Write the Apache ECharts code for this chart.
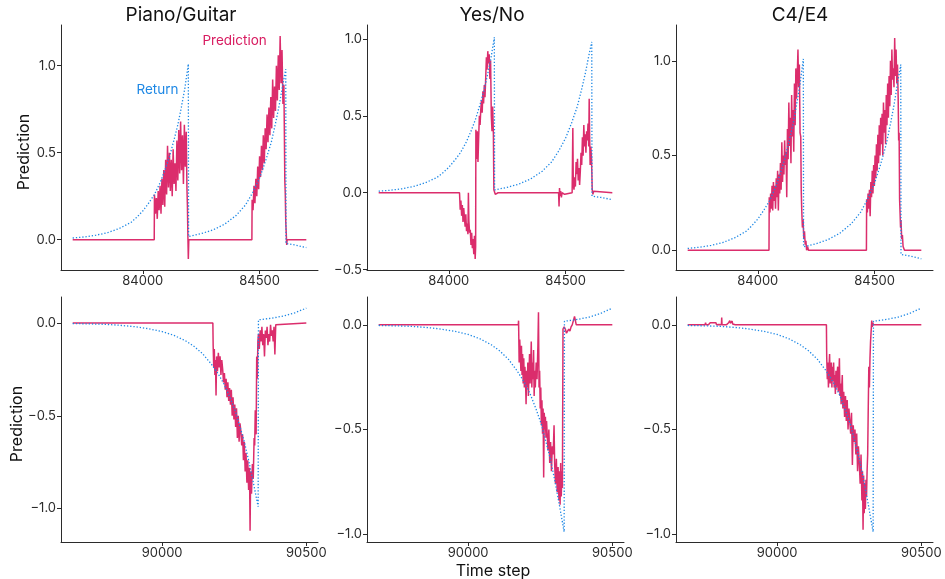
<!DOCTYPE html>
<html>
<head>
<meta charset="utf-8">
<script src="https://cdn.jsdelivr.net/npm/echarts@6/dist/echarts.min.js"></script>
<style>
html,body{margin:0;padding:0;background:#fff;}
#chart{width:945px;height:579px;}
</style>
</head>
<body>
<div id="chart"></div>
<script>
// ---------------- data ----------------
const panelTitles = ['Piano/Guitar', 'Yes/No', 'C4/E4'];
const topXTicks = [84000, 84500];
const bottomXTicks = [90000, 90500];
const topYTicks = [[0, 0.5, 1], [-0.5, 0, 0.5, 1], [0, 0.5, 1]];
const bottomYTicks = [[-1, -0.5, 0], [-1, -0.5, 0], [-1, -0.5, 0]];
const topXRange = [83650, 84750];
const bottomXRange = [89649.5, 90540.5];
const topYRanges = [[-0.174, 1.234], [-0.502, 1.09], [-0.104, 1.189]];
const bottomYRanges = [[-1.18, 0.14], [-1.038, 0.133], [-1.038, 0.133]];

// Return (dotted), shared by the three panels of each row
const returnTopSteps = [83700,83750,83800,83850,83900,83950,83975,84000,84025,84050,84075,84095,84115,84135,84150,84165,84180,84195,84196,84250,84300,84350,84400,84440,84470,84500,84525,84550,84570,84585,84600,84612,84613,84650,84700];
const returnTopValues = [0.01,0.016,0.026,0.041,0.065,0.10,0.13,0.165,0.21,0.26,0.33,0.40,0.48,0.58,0.66,0.76,0.87,1.01,0.018,0.035,0.056,0.089,0.14,0.20,0.27,0.355,0.45,0.56,0.68,0.78,0.895,0.98,-0.022,-0.03,-0.045];
const returnBottomSteps = [89690,89750,89800,89850,89900,89950,90000,90040,90080,90110,90140,90170,90195,90215,90235,90255,90270,90285,90300,90315,90333,90334,90380,90420,90460,90500];
const returnBottomValues = [-0.003,-0.005,-0.007,-0.012,-0.019,-0.030,-0.046,-0.066,-0.095,-0.125,-0.165,-0.22,-0.275,-0.33,-0.40,-0.48,-0.56,-0.64,-0.74,-0.85,-0.99,0.017,0.026,0.037,0.055,0.080];

// Prediction, [time step, value]
const pianoTopPred = [[83700,0],[84049,0],
[84050,0.26],[84054,0.15],[84058,0.24],[84062,0.12],[84066,0.28],[84070,0.17],[84074,0.31],[84078,0.15],[84082,0.35],[84086,0.20],[84090,0.40],[84094,0.19],[84098,0.46],[84102,0.26],[84106,0.54],[84110,0.30],[84114,0.50],[84118,0.28],[84122,0.46],[84126,0.25],[84130,0.52],[84134,0.32],[84138,0.44],[84142,0.28],[84146,0.57],[84150,0.34],[84154,0.63],[84158,0.38],[84162,0.68],[84166,0.40],[84170,0.60],[84174,0.32],[84178,0.66],[84182,0.42],[84186,0.62],[84189,0.30],[84191,0.20],[84193,0.03],[84195,-0.11],[84197,0],
[84467,0],
[84468,0.23],[84472,0.17],[84476,0.31],[84480,0.21],[84484,0.35],[84488,0.25],[84492,0.42],[84496,0.29],[84500,0.48],[84504,0.36],[84508,0.54],[84512,0.40],[84516,0.60],[84520,0.44],[84524,0.64],[84528,0.52],[84532,0.72],[84536,0.56],[84540,0.76],[84544,0.60],[84548,0.82],[84552,0.64],[84556,0.92],[84560,0.70],[84564,0.88],[84568,0.74],[84572,1.00],[84576,0.80],[84580,1.06],[84584,0.86],[84588,1.17],[84592,0.90],[84596,1.09],[84600,0.78],[84604,0.89],[84606,0.62],[84608,0.34],[84610,0.26],[84612,0.10],[84614,0.04],[84616,-0.03],[84618,0],[84700,0]];

const yesNoTopPred = [[83700,0],[84046,0],[84047,0.01],[84049,-0.11],[84052,-0.05],[84055,-0.15],[84058,-0.08],[84061,-0.19],[84064,-0.10],[84067,-0.16],[84070,-0.22],[84073,-0.14],[84076,-0.25],[84079,-0.20],[84082,-0.27],[84084,0.00],[84086,-0.18],[84089,-0.26],[84092,-0.24],[84095,-0.34],[84098,-0.26],[84101,-0.36],[84104,-0.30],[84107,-0.40],[84110,-0.28],[84113,-0.43],[84115,-0.35],
[84116,0.41],[84119,0.22],[84122,0.40],[84125,0.20],[84128,0.36],[84131,0.50],[84134,0.44],[84137,0.54],[84140,0.60],[84143,0.52],[84146,0.66],[84149,0.58],[84152,0.70],[84155,0.62],[84158,0.74],[84161,0.88],[84164,0.80],[84167,0.92],[84170,0.84],[84173,0.90],[84176,0.74],[84179,0.86],[84182,0.50],[84185,0.40],[84188,0.56],[84191,0.38],[84193,0.02],[84196,0.01],[84199,-0.01],[84203,0],[84207,-0.01],[84211,0],
[84470,0],[84472,-0.09],[84474,0.03],[84476,-0.02],[84479,0.01],[84482,-0.03],[84485,0],[84488,-0.01],[84492,0.01],[84496,-0.01],[84500,0],[84528,0],[84529,0.01],[84531,0.42],[84533,0.05],[84536,0.02],[84539,0.10],[84542,0.04],[84545,0.20],[84548,0.12],[84551,0.22],[84554,0.08],[84557,0.16],[84560,0.05],[84563,0.14],[84566,0.26],[84569,0.18],[84572,0.36],[84575,0.24],[84578,0.44],[84581,0.30],[84584,0.38],[84587,0.26],[84590,0.40],[84593,0.34],[84596,0.45],[84599,0.30],[84601,0.61],[84603,0.36],[84605,0.18],[84608,0.30],[84611,0.22],[84614,0.02],[84617,-0.01],[84620,0.01],[84624,0],[84700,0]];

const c4TopPred = [[83700,0],[84048,0],[84049,0.28],[84052,0.20],[84055,0.30],[84058,0.22],[84061,0.34],[84064,0.21],[84067,0.36],[84070,0.26],[84073,0.34],[84076,0.22],[84079,0.38],[84082,0.28],[84085,0.42],[84088,0.21],[84091,0.40],[84094,0.30],[84097,0.46],[84100,0.32],[84103,0.57],[84106,0.36],[84109,0.50],[84112,0.40],[84115,0.58],[84118,0.45],[84121,0.52],[84124,0.28],[84127,0.64],[84130,0.48],[84133,0.78],[84136,0.55],[84139,0.70],[84142,0.46],[84145,0.82],[84148,0.60],[84151,0.74],[84154,0.52],[84157,0.88],[84160,0.66],[84163,0.96],[84166,0.80],[84169,0.92],[84172,1.06],[84175,0.86],[84178,0.98],[84181,0.62],[84184,0.60],[84186,0.32],[84188,0.22],[84191,0.12],[84194,0.16],[84197,0.06],[84200,0.10],[84203,0.03],[84206,0.05],[84209,0],[84213,0.02],[84217,0],
[84465,0],[84466,0.27],[84469,0.20],[84472,0.30],[84475,0.22],[84478,0.32],[84481,0.18],[84484,0.36],[84487,0.28],[84490,0.42],[84493,0.30],[84496,0.45],[84499,0.34],[84502,0.50],[84505,0.38],[84508,0.56],[84511,0.42],[84514,0.61],[84517,0.46],[84520,0.66],[84523,0.50],[84526,0.70],[84529,0.56],[84532,0.72],[84535,0.50],[84538,0.78],[84541,0.62],[84544,0.74],[84547,0.56],[84550,0.82],[84553,0.66],[84556,0.88],[84559,0.70],[84562,0.92],[84565,0.76],[84568,1.00],[84571,0.82],[84574,1.06],[84577,0.90],[84580,0.96],[84583,0.86],[84586,1.12],[84589,0.92],[84592,1.06],[84595,0.88],[84598,0.98],[84601,0.80],[84603,0.58],[84605,0.62],[84607,0.27],[84609,0.20],[84611,0.12],[84613,0.16],[84616,0.06],[84619,0.08],[84622,0.02],[84625,0.03],[84628,0],[84700,0]];

const pianoBottomPred = [[89690,0],[90176,0],[90177,-0.12],[90179,-0.24],[90181,-0.14],[90183,-0.28],[90185,-0.20],[90187,-0.39],[90189,-0.18],[90192,-0.26],[90195,-0.16],[90198,-0.24],[90201,-0.18],[90204,-0.28],[90207,-0.20],[90210,-0.25],[90213,-0.32],[90216,-0.27],[90219,-0.36],[90222,-0.30],[90225,-0.40],[90228,-0.32],[90231,-0.42],[90234,-0.35],[90237,-0.44],[90240,-0.36],[90243,-0.50],[90246,-0.40],[90249,-0.52],[90252,-0.44],[90255,-0.56],[90258,-0.46],[90261,-0.62],[90264,-0.50],[90267,-0.64],[90270,-0.54],[90273,-0.58],[90276,-0.66],[90279,-0.60],[90282,-0.74],[90285,-0.64],[90288,-0.80],[90291,-0.70],[90294,-0.86],[90297,-0.74],[90300,-0.90],[90303,-0.78],[90305,-1.12],[90307,-0.80],[90310,-0.92],[90313,-0.76],[90316,-0.84],[90319,-0.62],[90321,-0.66],[90323,-0.47],[90326,-0.60],[90328,-0.18],[90330,-0.30],[90332,-0.10],[90334,-0.06],[90337,-0.14],[90340,-0.04],[90343,-0.10],[90346,-0.02],[90349,-0.12],[90352,-0.06],[90355,-0.18],[90358,-0.04],[90361,-0.08],[90364,-0.02],[90367,-0.12],[90370,-0.06],[90373,-0.10],[90376,-0.01],[90379,-0.07],[90382,-0.04],[90385,-0.10],[90388,-0.02],[90391,-0.17],[90394,-0.01],[90397,0],[90500,0]];

const yesNoBottomPred = [[89690,0],[90174,0],[90175,0.02],[90177,-0.18],[90179,-0.07],[90181,-0.14],[90183,-0.22],[90185,-0.10],[90187,-0.24],[90189,-0.14],[90191,-0.28],[90193,-0.16],[90195,-0.30],[90197,-0.20],[90199,-0.26],[90201,-0.38],[90203,-0.22],[90205,-0.30],[90207,-0.18],[90209,-0.34],[90211,-0.24],[90213,-0.14],[90215,-0.28],[90217,-0.20],[90219,-0.08],[90221,-0.30],[90223,-0.18],[90225,-0.26],[90227,-0.12],[90229,-0.34],[90231,-0.22],[90233,-0.30],[90236,-0.18],[90239,-0.26],[90242,-0.10],[90244,0.06],[90246,-0.30],[90248,-0.22],[90250,-0.40],[90252,-0.30],[90254,-0.48],[90256,-0.36],[90258,-0.52],[90260,-0.40],[90262,-0.73],[90264,-0.42],[90266,-0.50],[90268,-0.44],[90270,-0.54],[90272,-0.46],[90274,-0.52],[90277,-0.60],[90280,-0.50],[90283,-0.66],[90286,-0.56],[90289,-0.70],[90292,-0.58],[90295,-0.62],[90298,-0.48],[90300,-0.66],[90303,-0.76],[90306,-0.64],[90309,-0.80],[90312,-0.68],[90315,-0.84],[90317,-0.70],[90319,-0.86],[90321,-0.66],[90323,-0.82],[90325,-0.70],[90327,-0.78],[90329,-0.02],[90333,-0.01],[90337,-0.02],[90341,-0.04],[90345,-0.03],[90349,-0.02],[90353,-0.03],[90357,-0.01],[90361,0],[90365,0.02],[90369,0.04],[90372,0.02],[90375,0],[90500,0]];

const c4BottomPred = [[89690,0],[89750,0],[89752,0.01],[89754,0],[89760,0.005],[89762,0],[89768,0.01],[89770,0.004],[89776,0.01],[89780,0.012],[89782,0.004],[89788,0.01],[89790,0],[89796,0.008],[89798,0.002],[89804,0],[89807,0],[89808,0.035],[89809,0],[89814,0.005],[89816,0],[89822,0.003],[89824,0],[89832,0.01],[89836,0.02],[89838,0.008],[89844,0.018],[89846,0.004],[89852,0.01],[89855,0],[90171,0],[90172,-0.15],[90174,-0.26],[90176,-0.18],[90178,-0.30],[90180,-0.20],[90182,-0.14],[90184,-0.28],[90186,-0.22],[90188,-0.18],[90190,-0.30],[90192,-0.20],[90194,-0.27],[90196,-0.18],[90198,-0.30],[90200,-0.24],[90202,-0.33],[90204,-0.22],[90206,-0.30],[90208,-0.24],[90210,-0.20],[90212,-0.32],[90214,-0.26],[90216,-0.16],[90218,-0.34],[90220,-0.28],[90222,-0.38],[90224,-0.30],[90226,-0.24],[90228,-0.40],[90231,-0.32],[90234,-0.44],[90237,-0.34],[90240,-0.46],[90243,-0.36],[90246,-0.50],[90249,-0.40],[90252,-0.46],[90255,-0.52],[90258,-0.42],[90261,-0.67],[90264,-0.48],[90267,-0.56],[90270,-0.50],[90273,-0.62],[90276,-0.52],[90279,-0.70],[90282,-0.58],[90285,-0.66],[90288,-0.76],[90291,-0.62],[90294,-0.84],[90296,-0.70],[90298,-0.98],[90300,-0.72],[90302,-0.90],[90304,-0.76],[90306,-0.88],[90308,-0.74],[90310,-0.82],[90312,-0.70],[90314,-0.62],[90316,-0.40],[90318,-0.20],[90320,-0.30],[90322,-0.16],[90324,-0.08],[90326,-0.03],[90328,0.02],[90330,-0.01],[90332,0.01],[90334,0],[90500,0]];

// ---------------- chart ----------------
const FONT = "Inter, 'Noto Sans', sans-serif";
const PRED_COLOR = '#D81B60';
const RET_COLOR = '#1E88E5';
const AXIS_COLOR = '#2b2b2b';
const gridLefts = [61, 367, 676];
const gridTops = [25, 297];
const gridW = 257, gridH = 245;

const topPreds = [pianoTopPred, yesNoTopPred, c4TopPred];
const bottomPreds = [pianoBottomPred, yesNoBottomPred, c4BottomPred];
const zip = (a, b) => a.map((v, i) => [v, b[i]]);
const returnTop = zip(returnTopSteps, returnTopValues);
const returnBottom = zip(returnBottomSteps, returnBottomValues);
const fmtY = v => v.toFixed(1).replace('-', '\u2212');

const grids = [], xAxes = [], yAxes = [], series = [];
for (let row = 0; row < 2; row++) {
  for (let col = 0; col < 3; col++) {
    const idx = row * 3 + col;
    grids.push({left: gridLefts[col], top: gridTops[row], width: gridW, height: gridH});
    const xt = row === 0 ? topXTicks : bottomXTicks;
    const xr = row === 0 ? topXRange : bottomXRange;
    const yt = row === 0 ? topYTicks[col] : bottomYTicks[col];
    const yr = row === 0 ? topYRanges[col] : bottomYRanges[col];
    xAxes.push({
      type: 'value', gridIndex: idx, min: xr[0], max: xr[1],
      axisLine: {show: true, onZero: false, lineStyle: {color: AXIS_COLOR, width: 1}},
      axisTick: {show: true, length: 4, customValues: xt, lineStyle: {color: AXIS_COLOR}},
      axisLabel: {customValues: xt, color: AXIS_COLOR, fontSize: 13, fontFamily: FONT, margin: 5, formatter: v => String(v)},
      splitLine: {show: false}
    });
    yAxes.push({
      type: 'value', gridIndex: idx, min: yr[0], max: yr[1],
      axisLine: {show: true, onZero: false, lineStyle: {color: AXIS_COLOR, width: 1}},
      axisTick: {show: true, length: 4, customValues: yt, lineStyle: {color: AXIS_COLOR}},
      axisLabel: {customValues: yt, color: AXIS_COLOR, fontSize: 13, fontFamily: FONT, margin: 5, formatter: fmtY},
      splitLine: {show: false}
    });
    series.push({
      name: 'Prediction', type: 'line', xAxisIndex: idx, yAxisIndex: idx,
      data: row === 0 ? topPreds[col] : bottomPreds[col],
      symbol: 'none', silent: true, z: 2,
      lineStyle: {color: PRED_COLOR, width: 1.5, opacity: 0.92}
    });
    series.push({
      name: 'Return', type: 'line', xAxisIndex: idx, yAxisIndex: idx,
      data: row === 0 ? returnTop : returnBottom,
      symbol: 'none', silent: true, z: 3,
      lineStyle: {color: RET_COLOR, width: 1.3, type: [1.3, 1.9]}
    });
  }
}

const chart = echarts.init(document.getElementById('chart'), null, {renderer: 'canvas'});
chart.setOption({
  animation: false,
  backgroundColor: '#ffffff',
  grid: grids, xAxis: xAxes, yAxis: yAxes, series: series
});

const predLabelPos = chart.convertToPixel({gridIndex: 0}, [84393, 1.145]);
const retLabelPos = chart.convertToPixel({gridIndex: 0}, [84063, 0.86]);
const titleX = [181, 492, 800];
const graphics = [];
panelTitles.forEach((t, i) => graphics.push({
  type: 'text', x: titleX[i], y: 15, silent: true,
  style: {text: t, fill: '#111', fontSize: 19, fontFamily: FONT, align: 'center', verticalAlign: 'middle'}
}));
graphics.push({type: 'text', x: 24, y: 152, rotation: Math.PI / 2, silent: true,
  style: {text: 'Prediction', fill: '#111', fontSize: 16, fontFamily: FONT, align: 'center', verticalAlign: 'middle'}});
graphics.push({type: 'text', x: 17, y: 424, rotation: Math.PI / 2, silent: true,
  style: {text: 'Prediction', fill: '#111', fontSize: 16, fontFamily: FONT, align: 'center', verticalAlign: 'middle'}});
graphics.push({type: 'text', x: 493, y: 571, silent: true,
  style: {text: 'Time step', fill: '#111', fontSize: 16, fontFamily: FONT, align: 'center', verticalAlign: 'middle'}});
graphics.push({type: 'text', x: predLabelPos[0], y: predLabelPos[1], silent: true,
  style: {text: 'Prediction', fill: PRED_COLOR, fontSize: 13.5, fontFamily: FONT, align: 'center', verticalAlign: 'middle'}});
graphics.push({type: 'text', x: retLabelPos[0], y: retLabelPos[1], silent: true,
  style: {text: 'Return', fill: RET_COLOR, fontSize: 13.5, fontFamily: FONT, align: 'center', verticalAlign: 'middle'}});
chart.setOption({graphic: graphics});
</script>
</body>
</html>
